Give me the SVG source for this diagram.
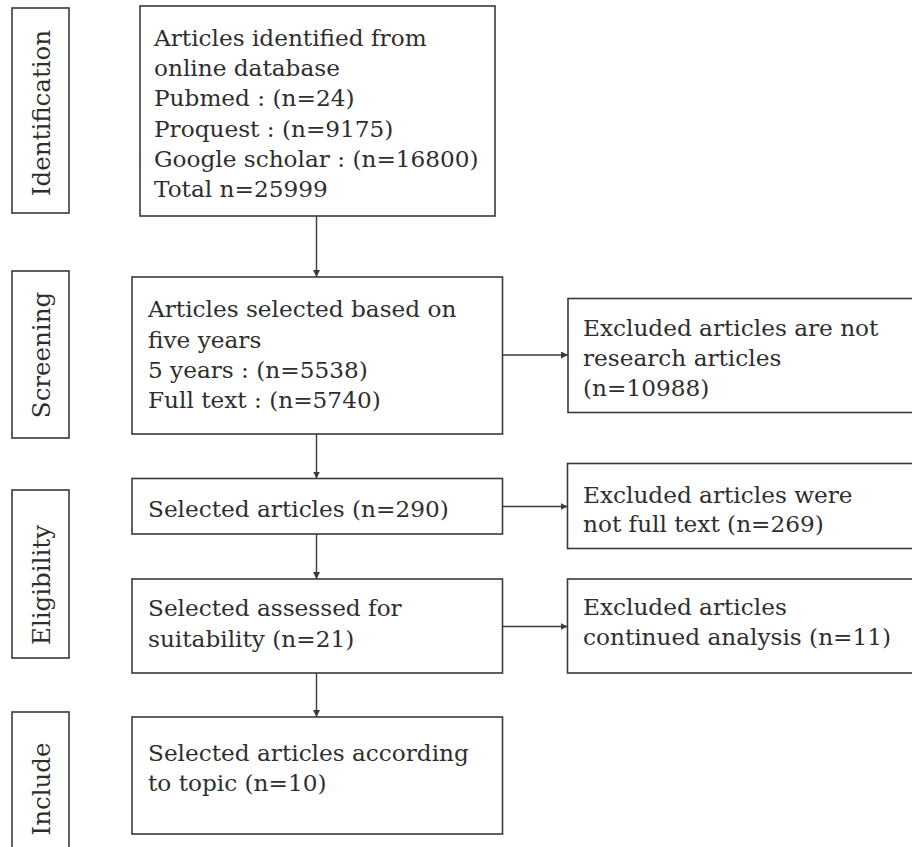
<svg xmlns="http://www.w3.org/2000/svg" width="912" height="847" viewBox="0 0 912 847">
<style>
  .box { fill: #ffffff; stroke: #3a3a3a; stroke-width: 1.6; }
  .txt { font-family: "DejaVu Serif", "Liberation Serif", serif; font-size: 23.2px; fill: #2e2e2e; }
  .lbl { font-family: "DejaVu Serif", "Liberation Serif", serif; font-size: 24.5px; fill: #2e2e2e; text-anchor: middle; }
  .conn { fill: none; stroke: #3a3a3a; stroke-width: 1.4; marker-end: url(#arrow); }
</style>
<defs>
  <marker id="arrow" viewBox="0 0 10 10" refX="10" refY="5" markerWidth="7" markerHeight="7" markerUnits="userSpaceOnUse" orient="auto">
    <path d="M0,0 L10,5 L0,10 z" fill="#3a3a3a"/>
  </marker>
</defs>
<rect width="912" height="847" fill="#ffffff"/>

<g id="label-identification">
  <rect class="box" x="12" y="8" width="57" height="205"/>
  <text class="lbl" transform="translate(49.5,113) rotate(-90)">Identification</text>
</g>
<g id="label-screening">
  <rect class="box" x="12" y="271" width="57" height="167"/>
  <text class="lbl" transform="translate(49.5,355) rotate(-90)">Screening</text>
</g>
<g id="label-eligibility">
  <rect class="box" x="12" y="490" width="57" height="168"/>
  <text class="lbl" transform="translate(49.5,585) rotate(-90)">Eligibility</text>
</g>
<g id="label-include">
  <rect class="box" x="12" y="712" width="57" height="150"/>
  <text class="lbl" transform="translate(49.5,789) rotate(-90)">Include</text>
</g>

<g id="identified">
  <rect class="box" x="140" y="6" width="355" height="210"/>
  <text class="txt" x="154" y="46">Articles identified from</text>
  <text class="txt" x="154" y="76">online database</text>
  <text class="txt" x="154" y="106">Pubmed : (n=24)</text>
  <text class="txt" x="154" y="136.5">Proquest : (n=9175)</text>
  <text class="txt" x="154" y="166.5">Google scholar : (n=16800)</text>
  <text class="txt" x="154" y="197">Total n=25999</text>
</g>
<g id="screened">
  <rect class="box" x="132" y="277" width="370.5" height="157"/>
  <text class="txt" x="148" y="317">Articles selected based on</text>
  <text class="txt" x="148" y="347.5">five years</text>
  <text class="txt" x="148" y="378">5 years : (n=5538)</text>
  <text class="txt" x="148" y="408">Full text : (n=5740)</text>
</g>
<g id="excluded-research">
  <rect class="box" x="568" y="298.5" width="350" height="114"/>
  <text class="txt" x="583" y="336">Excluded articles are not</text>
  <text class="txt" x="583" y="366">research articles</text>
  <text class="txt" x="583" y="396">(n=10988)</text>
</g>
<g id="selected">
  <rect class="box" x="132" y="478.5" width="370.5" height="55.5"/>
  <text class="txt" x="148" y="517">Selected articles (n=290)</text>
</g>
<g id="excluded-fulltext">
  <rect class="box" x="567.5" y="463.5" width="350" height="85"/>
  <text class="txt" x="583" y="503">Excluded articles were</text>
  <text class="txt" x="583" y="532">not full text (n=269)</text>
</g>
<g id="assessed">
  <rect class="box" x="132" y="579" width="370.5" height="94"/>
  <text class="txt" x="148" y="616">Selected assessed for</text>
  <text class="txt" x="148" y="646.5">suitability (n=21)</text>
</g>
<g id="excluded-continued">
  <rect class="box" x="567.5" y="579" width="350" height="94"/>
  <text class="txt" x="583" y="615">Excluded articles</text>
  <text class="txt" x="583" y="645">continued analysis (n=11)</text>
</g>
<g id="included">
  <rect class="box" x="132" y="717" width="370.5" height="117"/>
  <text class="txt" x="148" y="761">Selected articles according</text>
  <text class="txt" x="148" y="791">to topic (n=10)</text>
</g>

<g id="connectors">
  <line class="conn" x1="316.5" y1="216" x2="316.5" y2="277"/>
  <line class="conn" x1="316.5" y1="434" x2="316.5" y2="478.5"/>
  <line class="conn" x1="316.5" y1="534" x2="316.5" y2="579"/>
  <line class="conn" x1="316.5" y1="673" x2="316.5" y2="717"/>
  <line class="conn" x1="502.5" y1="355" x2="568" y2="355"/>
  <line class="conn" x1="502.5" y1="506.5" x2="567.5" y2="506.5"/>
  <line class="conn" x1="502.5" y1="626.5" x2="567.5" y2="626.5"/>
</g>
</svg>
